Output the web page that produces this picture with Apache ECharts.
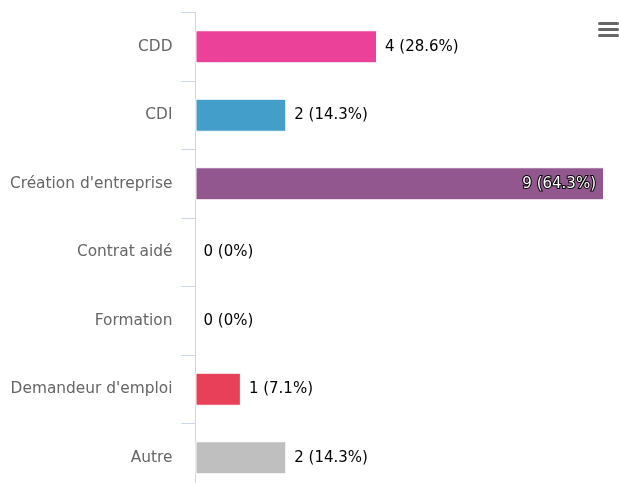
<!DOCTYPE html>
<html>
<head>
<meta charset="utf-8">
<script src="https://cdn.jsdelivr.net/npm/echarts@6/dist/echarts.min.js"></script>
<style>
  html, body { margin: 0; padding: 0; background: #fff; overflow: hidden; }
  #chart { width: 619px; height: 492px; }
</style>
</head>
<body>
<div id="chart"></div>
<script>
var categories = ['CDD', 'CDI', 'Création d\'entreprise', 'Contrat aidé', 'Formation', 'Demandeur d\'emploi', 'Autre'];
var values = [4, 2, 9, 0, 0, 1, 2];
var percents = ['28.6', '14.3', '64.3', '0', '0', '7.1', '14.3'];
var colors = ['#eb4198', '#439ec9', '#935790', '#e9405a', '#e9405a', '#e9405a', '#bfbfbf'];

var dom = document.getElementById('chart');
var myChart = echarts.init(dom, null, { renderer: 'canvas' });

var font = 'DejaVu Sans, sans-serif';

var option = {
    animation: false,
    grid: {
        left: 195.5,
        width: 408.5,
        top: 12.5,
        bottom: 0,
        containLabel: false
    },
    xAxis: {
        type: 'value',
        min: 0,
        max: 9,
        show: false
    },
    yAxis: {
        type: 'category',
        inverse: true,
        data: categories,
        axisLine: { show: true, lineStyle: { color: '#ccd6eb', width: 1 } },
        axisTick: { show: true, length: 14, lineStyle: { color: '#ccd6eb' } },
        axisLabel: {
            margin: 23,
            color: '#666666',
            fontSize: 15.4,
            fontFamily: font
        }
    },
    series: [{
        type: 'bar',
        barWidth: 33,
        data: values.map(function (v, i) {
            var item = {
                value: v,
                itemStyle: { color: colors[i], borderColor: '#fff', borderWidth: v > 0 ? 1 : 0 }
            };
            if (v === 9) {
                item.label = {
                    position: 'insideRight',
                    distance: 8,
                    color: '#fff',
                    textBorderColor: '#000',
                    textBorderWidth: 2
                };
            }
            return item;
        }),
        label: {
            show: true,
            position: 'right',
            distance: 8,
            color: '#000',
            fontSize: 15,
            fontFamily: font,
            formatter: function (p) {
                return p.value + ' (' + percents[p.dataIndex] + '%)';
            }
        }
    }],
    graphic: [{
        type: 'group',
        right: 0,
        top: 22,
        children: [
            { type: 'rect', shape: { x: 0, y: 0, width: 21, height: 3, r: 1.5 }, style: { fill: '#666' } },
            { type: 'rect', shape: { x: 0, y: 6, width: 21, height: 3, r: 1.5 }, style: { fill: '#666' } },
            { type: 'rect', shape: { x: 0, y: 12, width: 21, height: 3, r: 1.5 }, style: { fill: '#666' } }
        ]
    }]
};

myChart.setOption(option);
window.addEventListener('resize', myChart.resize);
</script>
</body>
</html>
